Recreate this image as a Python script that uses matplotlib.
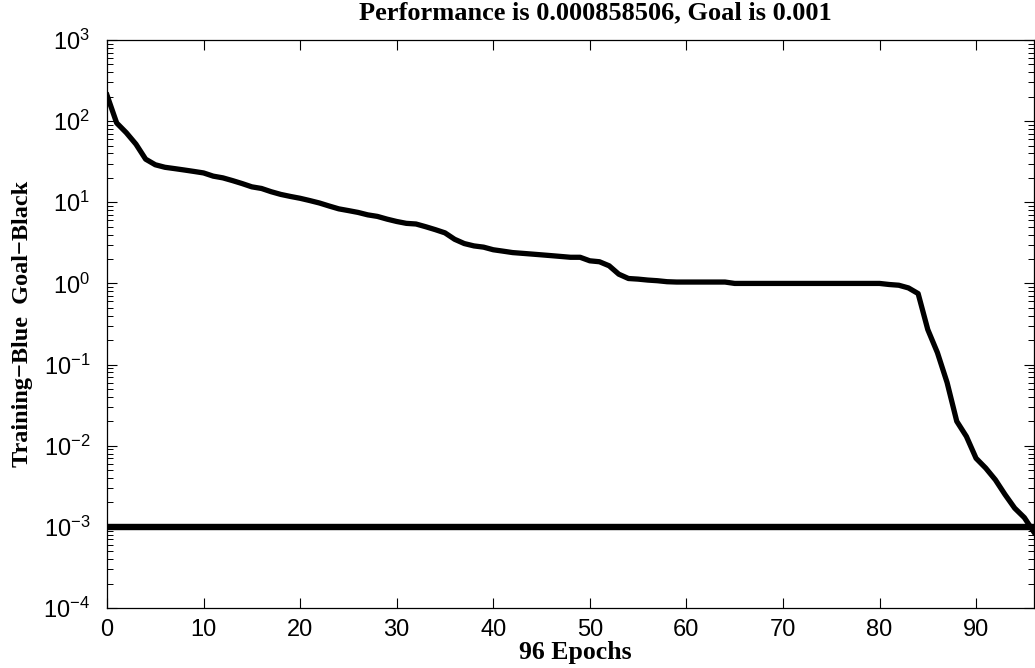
import matplotlib
matplotlib.use("Agg")
import matplotlib.pyplot as plt
import numpy as np
from matplotlib.ticker import FixedLocator, NullFormatter, LogFormatterSciNotation

epochs = list(range(0, 97))
performance = [
    209, 95, 72, 52, 34, 29, 27, 26, 25, 24,
    23, 21, 20, 18.5, 17, 15.5, 14.8, 13.5, 12.5, 11.8,
    11.2, 10.5, 9.8, 9.0, 8.3, 7.9, 7.5, 7.0, 6.7, 6.2,
    5.8, 5.5, 5.4, 5.0, 4.6, 4.2, 3.5, 3.1, 2.9, 2.8,
    2.6, 2.5, 2.4, 2.35, 2.3, 2.25, 2.2, 2.15, 2.1, 2.1,
    1.9, 1.85, 1.65, 1.3, 1.15, 1.13, 1.1, 1.08, 1.05, 1.04,
    1.04, 1.04, 1.04, 1.04, 1.04, 1.0, 1.0, 1.0, 1.0, 1.0,
    1.0, 1.0, 1.0, 1.0, 1.0, 1.0, 1.0, 1.0, 1.0, 1.0,
    1.0, 0.97, 0.95, 0.88, 0.75, 0.27, 0.14, 0.06, 0.02, 0.013,
    0.007, 0.0053, 0.0038, 0.0025, 0.0017, 0.0013, 0.000858506,
]
goal = 0.001
x_ticks = [0, 10, 20, 30, 40, 50, 60, 70, 80, 90]
y_decades = [1e-4, 1e-3, 1e-2, 1e-1, 1e0, 1e1, 1e2, 1e3]

title_text = "Performance is 0.000858506, Goal is 0.001"
ylabel_text = "Training\u2212Blue  Goal\u2212Black"
xlabel_text = "96 Epochs"

plt.rcParams['font.family'] = 'sans-serif'
plt.rcParams['font.sans-serif'] = ['Liberation Sans', 'DejaVu Sans']
plt.rcParams['mathtext.fontset'] = 'custom'
plt.rcParams['mathtext.rm'] = 'Liberation Sans'

W, H = 1035, 668
fig = plt.figure(figsize=(W / 100, H / 100), dpi=100)
ax = fig.add_axes([107 / W, 1 - 608 / H, (1034 - 107) / W, (608 - 40) / H])

ax.plot([0, epochs[-1]], [goal, goal], color='black', lw=4.6, solid_capstyle='butt')
ax.plot(epochs, performance, color='black', lw=3.8, solid_joinstyle='round')

ax.set_yscale('log')
ax.set_ylim(1e-4, 1e3)
ax.set_xlim(0, 96)
ax.xaxis.set_major_locator(FixedLocator(x_ticks))
ax.yaxis.set_major_locator(FixedLocator(y_decades))
ax.yaxis.set_major_formatter(LogFormatterSciNotation())
minor = [m * d for d in y_decades[:-1] for m in range(2, 10)]
ax.yaxis.set_minor_locator(FixedLocator(minor))
ax.yaxis.set_minor_formatter(NullFormatter())

ax.tick_params(axis='both', which='major', direction='in', length=7, width=0.8,
               top=True, right=True, labelsize=17, colors='black')
ax.tick_params(axis='y', which='minor', direction='in', length=4, width=0.7,
               left=True, right=True)
ax.tick_params(axis='x', which='major', pad=8)
ax.tick_params(axis='y', which='major', pad=12)
for s in ax.spines.values():
    s.set_linewidth(0.9)

fig.text(595 / W, 1 - 13 / H, title_text, ha='center', va='center',
         family='Liberation Serif', fontweight='bold', fontsize=19)
fig.text(23 / W, 1 - 324 / H, ylabel_text, ha='center', va='center', rotation=90,
         family='Liberation Serif', fontweight='bold', fontsize=17.5)
fig.text(575 / W, 1 - 653 / H, xlabel_text, ha='center', va='center',
         family='Liberation Serif', fontweight='bold', fontsize=18.5)

fig.savefig('out.png', dpi=100)
